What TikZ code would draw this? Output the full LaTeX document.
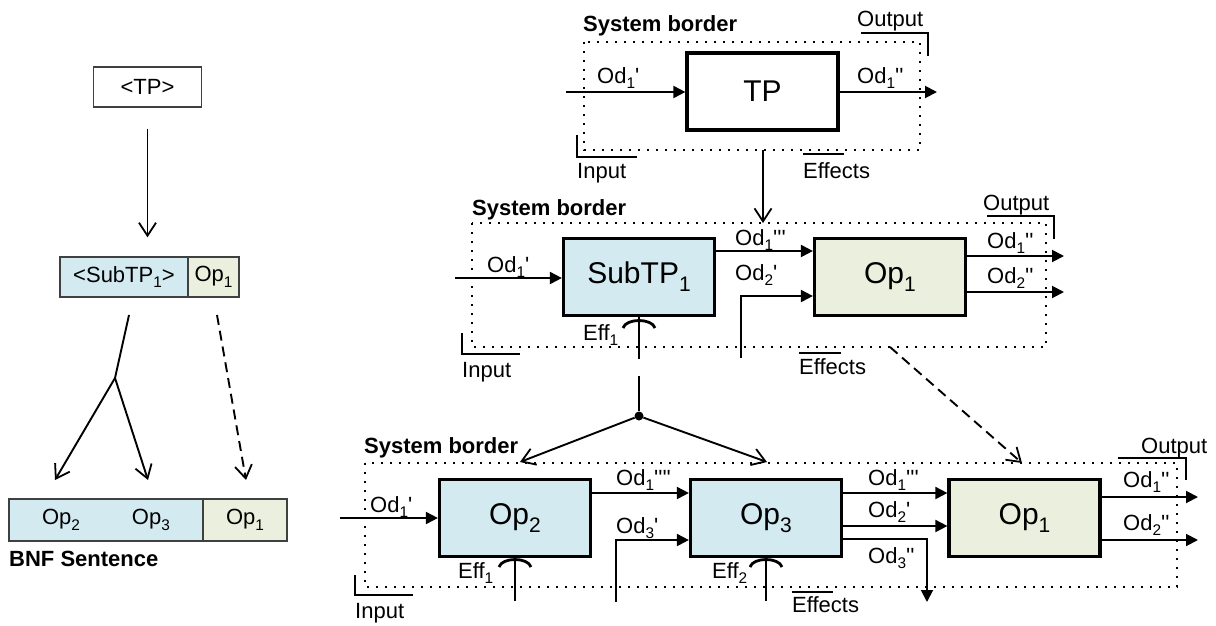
\documentclass[tikz,border=0pt]{standalone}
\usepackage{fontspec}
\setmainfont{Liberation Sans}[Ligatures=TeXOff]
\usetikzlibrary{arrows.meta}

\definecolor{subblue}{RGB}{210,234,240}
\definecolor{opbeige}{RGB}{235,240,222}

\newcommand\ix[1]{\raisebox{-0.26em}{\scalebox{0.7}{#1}}}

\tikzset{
  lbl/.style={font=\fontsize{22}{24}\selectfont, inner sep=0pt, anchor=base west},
  bold/.style={lbl, font=\fontsize{22}{24}\selectfont\bfseries},
  opbox/.style={draw, line width=3.2pt, minimum width=151pt, minimum height=77pt, inner sep=0pt, font=\fontsize{30}{32}\selectfont},
  cell/.style={draw=black!75, line width=1.3pt, minimum height=40pt, inner sep=0pt, font=\fontsize{22}{24}\selectfont},
  border/.style={line width=1.6pt, dash pattern=on 1.6pt off 7.4pt},
  brk/.style={line width=2.8pt},
  wire/.style={line width=1.9pt},
  flow/.style={wire, -{Triangle[length=12pt,width=12pt]}},
  link/.style={wire, -{Straight Barb[length=13pt,width=17pt,line width=1.8pt]}},
  dashlink/.style={link, dash pattern=on 10pt off 6pt}
}

\begin{document}
\begin{tikzpicture}[x=1pt,y=-1pt]
\useasboundingbox (0,0) rectangle (1216,625);

% BNF tree
\node[cell, minimum width=108pt] (tpc) at (147.5,87) {<TP>};
\node[cell, fill=subblue, minimum width=128pt] (subc) at (124,277) {<SubTP\ix{1}>};
\node[cell, fill=opbeige, minimum width=51pt] (opc) at (213.5,277) {Op\ix{1}};
\node[cell, fill=subblue, minimum width=194pt, minimum height=42pt] (bnfl) at (106,520) {Op\ix{2}\hspace{52pt}Op\ix{3}};
\node[cell, fill=opbeige, minimum width=84pt, minimum height=42pt] (bnfr) at (245,520) {Op\ix{1}};
\node[bold] (bnf) at (9,566) {BNF Sentence};

\coordinate (brtop) at (129,315);
\coordinate (br) at (115,378);
\coordinate (lt2) at (55,480);
\coordinate (lt3) at (148,480);
\coordinate (dtop) at (217,315);
\coordinate (lt1) at (246,480);
\draw[link, shorten <=21pt, shorten >=19pt] (tpc.south) -- (tpc.south |- subc.north);
\draw[wire] (brtop) -- (br);
\draw[link] (br) -- (lt2);
\draw[link] (br) -- (lt3);
\draw[dashlink] (dtop) -- (lt1);

% Top system
\draw[border] (584,42) rectangle (920,150);
\node[opbox] (tp) at (762.5,91.5) {TP};
\coordinate (tpin) at (566,92);
\coordinate (tpout) at (937,92);
\draw[flow] (tpin) -- (tp.west |- tpin);
\draw[flow] (tp.east |- tpout) -- (tpout);
\node[bold] at (583,31) {System border};
\node[lbl] at (597,83) {Od\ix{1}'};
\node[lbl] at (857,83) {Od\ix{1}''};
\node[lbl] at (857,26) {Output};
\node[lbl] at (577,178) {Input};
\node[lbl] at (803,178) {Effects};
\draw[brk] (861,33) -- (928,33) -- (928,56);
\draw[brk] (577,135) -- (577,157) -- (637,157);
\draw[brk] (803,154) -- (844,154);

\coordinate (tpdown) at (763,150);
\coordinate (mtop) at (763,223);
\draw[link] (tpdown) -- (mtop);

% Middle system
\draw[border] (472,223) rectangle (1046,347);
\node[opbox, fill=subblue] (sub) at (639,277) {SubTP\ix{1}};
\node[opbox, fill=opbeige] (op1) at (890,277) {Op\ix{1}};
\coordinate (min) at (455,278);
\coordinate (mod2) at (741,358);
\coordinate (mo1) at (1064,256);
\coordinate (mo2) at (1064,292);
\draw[flow] (min) -- (sub.west |- min);
\draw[flow] ([yshift=26pt]sub.east) -- ([yshift=26pt]op1.west);
\draw[flow] (mod2) |- ([yshift=-19pt]op1.west);
\draw[flow] (op1.east |- mo1) -- (mo1);
\draw[flow] (op1.east |- mo2) -- (mo2);
\node[bold] at (472,215) {System border};
\node[lbl] at (487,272) {Od\ix{1}'};
\node[lbl] at (735,245) {Od\ix{1}'''};
\node[lbl] at (735,280) {Od\ix{2}'};
\node[lbl] at (987,248) {Od\ix{1}''};
\node[lbl] at (987,283) {Od\ix{2}''};
\node[lbl] at (983,210) {Output};
\node[lbl] at (462,377) {Input};
\node[lbl] at (799,374) {Effects};
\node[lbl] at (583,340) {Eff\ix{1}};
\draw[brk] (987,216) -- (1054,216) -- (1054,239);
\draw[brk] (462,333) -- (462,354) -- (520,354);
\draw[brk] (799,353) -- (841,353);
\draw[brk] (623,328) .. controls (626,318) and (652,318) .. (655,328);

% Split into Op2 and Op3
\coordinate (e1end) at (639,359);
\coordinate (g1) at (639,376);
\node[circle, fill, inner sep=0pt, minimum size=9pt] (jn) at (639,416) {};
\coordinate (t2) at (520,462);
\coordinate (t3) at (767,462);
\coordinate (dstart) at (890,347);
\coordinate (t1) at (1022,463);
\draw[wire] (sub.south) -- (e1end);
\draw[wire] (g1) -- (jn);
\draw[link] (jn) -- (t2);
\draw[link] (jn) -- (t3);
\draw[dashlink] (dstart) -- (t1);

% Bottom system
\draw[border] (365,463) rectangle (1177,587);
\node[opbox, fill=subblue] (op2) at (515,518) {Op\ix{2}};
\node[opbox, fill=subblue] (op3) at (766,518) {Op\ix{3}};
\node[opbox, fill=opbeige] (op1b) at (1024.5,518) {Op\ix{1}};
\coordinate (bin) at (340,518);
\coordinate (bod3) at (616,602);
\coordinate (bod3o) at (927,602);
\coordinate (bo1) at (1198,497);
\coordinate (bo2) at (1198,540);
\coordinate (be1) at (515,601);
\coordinate (be2) at (766,601);
\draw[flow] (bin) -- (op2.west |- bin);
\draw[flow] ([yshift=25pt]op2.east) -- ([yshift=25pt]op3.west);
\draw[flow] (bod3) |- ([yshift=-22pt]op3.west);
\draw[flow] ([yshift=25pt]op3.east) -- ([yshift=25pt]op1b.west);
\draw[flow] ([yshift=-8pt]op3.east) -- ([yshift=-8pt]op1b.west);
\draw[flow] ([yshift=-21pt]op3.east) -| (bod3o);
\draw[flow] (op1b.east |- bo1) -- (bo1);
\draw[flow] (op1b.east |- bo2) -- (bo2);
\draw[wire] (op2.south) -- (be1);
\draw[wire] (op3.south) -- (be2);
\draw[brk] (499,567) .. controls (502,557) and (528,557) .. (531,567);
\draw[brk] (750,567) .. controls (753,557) and (779,557) .. (782,567);
\node[bold] at (364,453) {System border};
\node[lbl] at (370,512) {Od\ix{1}'};
\node[lbl] at (616,485) {Od\ix{1}''''};
\node[lbl] at (616,533) {Od\ix{3}'};
\node[lbl] at (458,578) {Eff\ix{1}};
\node[lbl] at (712,578) {Eff\ix{2}};
\node[lbl] at (868,485) {Od\ix{1}'''};
\node[lbl] at (868,517) {Od\ix{2}'};
\node[lbl] at (868,563) {Od\ix{3}''};
\node[lbl] at (1123,487) {Od\ix{1}''};
\node[lbl] at (1123,530) {Od\ix{2}''};
\node[lbl] at (1141,453) {Output};
\node[lbl] at (355,618) {Input};
\node[lbl] at (792,612) {Effects};
\draw[brk] (1118,458) -- (1186,458) -- (1186,480);
\draw[brk] (355,575) -- (355,595) -- (413,595);
\draw[brk] (792,592) -- (833,592);
\end{tikzpicture}
\end{document}
